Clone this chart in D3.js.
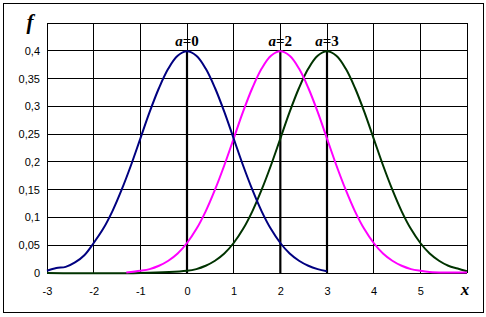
<!DOCTYPE html>
<html>
<head>
<meta charset="utf-8">
<script src="https://cdn.jsdelivr.net/npm/d3@7"></script>
<style>
body{margin:0;background:#fff;}
svg{display:block;}
</style>
</head>
<body>
<svg></svg>
<script>
// data
const xTicks = [-3,-2,-1,0,1,2,3,4,5,6];
const yTicks = [0,0.05,0.1,0.15,0.2,0.25,0.3,0.35,0.4,0.45];
const yTickLabels = ["0","0,05","0,1","0,15","0,2","0,25","0,3","0,35","0,4",""];

// a=0 (blue)
const xA0 = [-3,-2.8,-2.6,-2.4,-2.2,-2,-1.8,-1.6,-1.4,-1.2,-1,-0.8,-0.6,-0.4,-0.2,0,0.2,0.4,0.6,0.8,1,1.2,1.4,1.6,1.8,2,2.2,2.4,2.6,2.8,3];
const fA0 = [0.004,0.009,0.011,0.019,0.032,0.054,0.079,0.111,0.150,0.194,0.242,0.290,0.333,0.368,0.391,0.399,0.391,0.368,0.333,0.290,0.242,0.194,0.150,0.111,0.079,0.054,0.035,0.022,0.013,0.007,0.003];

// a=2 (magenta)
const xA2 = [-1.3,-1,-0.8,-0.6,-0.4,-0.2,0,0.2,0.4,0.6,0.8,1,1.2,1.4,1.6,1.8,2,2.2,2.4,2.6,2.8,3,3.2,3.4,3.6,3.8,4,4.2,4.4,4.6,4.8,5,5.2,5.5,6];
const fA2 = [0.001,0.004,0.007,0.013,0.022,0.035,0.054,0.079,0.111,0.150,0.194,0.242,0.290,0.333,0.368,0.391,0.399,0.391,0.368,0.333,0.290,0.242,0.194,0.150,0.111,0.079,0.054,0.035,0.022,0.013,0.007,0.004,0.002,0.001,0.001];

// a=3 (dark green)
const xA3 = [-3,-1,0,0.2,0.4,0.6,0.8,1,1.2,1.4,1.6,1.8,2,2.2,2.4,2.6,2.8,3,3.2,3.4,3.6,3.8,4,4.2,4.4,4.6,4.8,5,5.2,5.4,5.6,5.8,6];
const fA3 = [0,0,0.004,0.007,0.013,0.022,0.035,0.054,0.079,0.111,0.150,0.194,0.242,0.290,0.333,0.368,0.391,0.399,0.391,0.368,0.333,0.290,0.242,0.194,0.150,0.111,0.079,0.054,0.035,0.022,0.013,0.008,0.003];

const means = [0,2,3];
const meanLabels = ["0","2","3"];

const w = 486, h = 317;
const plotLeft = 47, plotRight = 467, plotTop = 23, plotBottom = 273;

let svg = d3.select("svg").attr("width", w).attr("height", h);

let xScale = d3.scaleLinear().domain([-3,6]).range([plotLeft,plotRight]);
let yScale = d3.scaleLinear().domain([0,0.45]).range([plotBottom,plotTop]);

// outer frame
svg.append("rect")
  .attr("x",3.5).attr("y",3.5).attr("width",480).attr("height",309)
  .attr("fill","none").attr("stroke","#000").attr("stroke-width",1);

// grid
let grid = svg.append("g").attr("shape-rendering","crispEdges");
grid.selectAll(".vg").data(xTicks).enter().append("line")
  .attr("x1",d=>xScale(d)).attr("x2",d=>xScale(d))
  .attr("y1",plotTop).attr("y2",plotBottom)
  .attr("stroke","#000").attr("stroke-width",1);
grid.selectAll(".hg").data(yTicks).enter().append("line")
  .attr("x1",plotLeft).attr("x2",plotRight)
  .attr("y1",d=>yScale(d)).attr("y2",d=>yScale(d))
  .attr("stroke","#000").attr("stroke-width",1);

// axes (labels only)
let xAxis = d3.axisBottom(xScale).tickValues(xTicks.slice(0,-1)).tickSize(0).tickPadding(14).tickFormat(d=>d);
let yAxis = d3.axisLeft(yScale).tickValues(yTicks).tickSize(0).tickPadding(7).tickFormat((d,i)=>yTickLabels[i]);

let gx = svg.append("g").attr("transform","translate(0,"+plotBottom+")").call(xAxis);
let gy = svg.append("g").attr("transform","translate("+plotLeft+",0)").call(yAxis);
[gx,gy].forEach(g=>{
  g.select(".domain").remove();
  g.selectAll("text").attr("font-family","Arial, 'Liberation Sans', sans-serif").attr("font-size",11).attr("fill","#000");
});

// mean lines
svg.selectAll(".mean").data(means).enter().append("line")
  .attr("x1",d=>xScale(d)).attr("x2",d=>xScale(d))
  .attr("y1",yScale(0)).attr("y2",yScale(0.399))
  .attr("stroke","#000").attr("stroke-width",2.2);

// curves
let line = d3.line().x(d=>xScale(d[0])).y(d=>yScale(d[1])).curve(d3.curveCatmullRom);
let series = [
  {x:xA3, f:fA3, color:"#003300"},
  {x:xA2, f:fA2, color:"#ff00ff"},
  {x:xA0, f:fA0, color:"#000080"}
];
series.forEach(s=>{
  svg.append("path")
    .datum(s.x.map((v,i)=>[v,s.f[i]]))
    .attr("d",line)
    .attr("fill","none")
    .attr("stroke",s.color)
    .attr("stroke-width",2);
});

// mean labels
let ml = svg.selectAll(".ml").data(means).enter().append("text")
  .attr("x",d=>xScale(d)).attr("y",46)
  .attr("text-anchor","middle")
  .attr("font-family","'Liberation Serif', 'Times New Roman', serif")
  .attr("font-size",15).attr("font-weight","bold");
ml.append("tspan").attr("font-style","italic").text("a");
ml.append("tspan").text((d,i)=>"="+meanLabels[i]);

// axis names
svg.append("text").attr("x",30).attr("y",29).attr("text-anchor","middle")
  .attr("font-family","'Liberation Serif', 'Times New Roman', serif")
  .attr("font-size",21).attr("font-weight","bold").attr("font-style","italic").text("f");
svg.append("text").attr("x",465).attr("y",295).attr("text-anchor","middle")
  .attr("font-family","'Liberation Serif', 'Times New Roman', serif")
  .attr("font-size",17).attr("font-weight","bold").attr("font-style","italic").text("x");
</script>
</body>
</html>
